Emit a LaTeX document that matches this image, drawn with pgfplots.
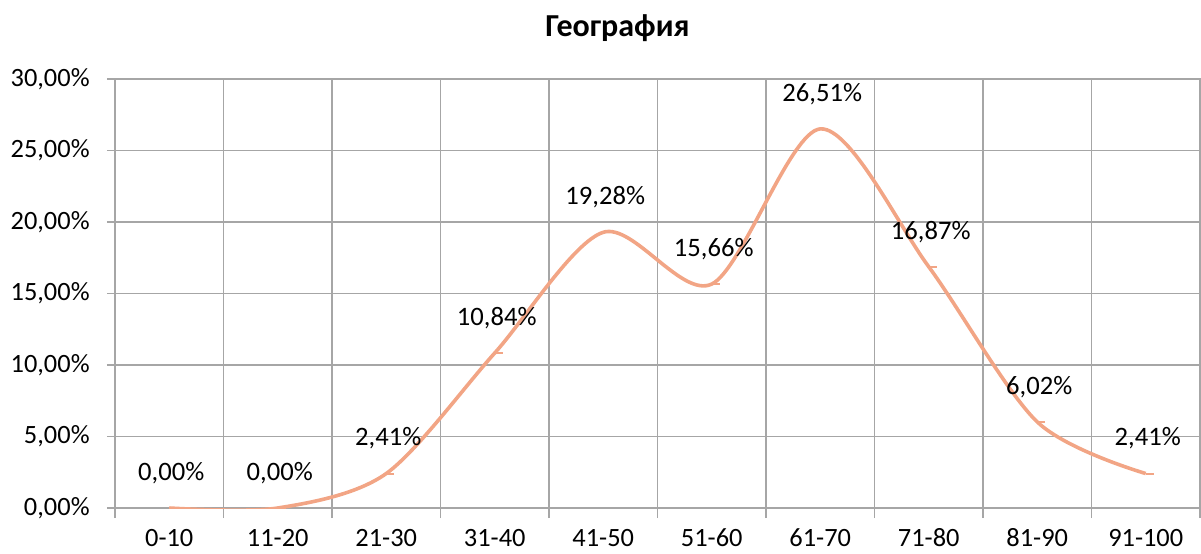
\documentclass[border=0pt]{standalone}
\usepackage{pgfplots}
\pgfplotsset{compat=1.18}
\usepackage{fontspec}
\setmainfont{Carlito}
\definecolor{linec}{HTML}{F2A585}
\definecolor{gridc}{HTML}{A6A6A6}
\begin{document}
\begin{tikzpicture}
\begin{axis}[
  scale only axis,
  width=542.5pt, height=214.5pt,
  xmin=-0.5, xmax=9.5, ymin=0, ymax=30,
  xtick={0,...,9},
  xticklabels={0-10,11-20,21-30,31-40,41-50,51-60,61-70,71-80,81-90,91-100},
  minor xtick={-0.5,0.5,...,9.5},
  major x tick style={draw=none},
  minor x tick style={gridc, line width=0.6pt},
  xminorgrids=true,
  minor tick length=5pt,
  ytick={0,5,...,30},
  ymajorgrids=true,
  y tick style={gridc, line width=0.6pt},
  major tick length=4pt,
  tick align=outside,
  tick pos=left,
  grid style={gridc, line width=0.6pt},
  axis line style={gridc, line width=0.6pt},
  /pgf/number format/assume math mode=true,
  yticklabel={\pgfmathprintnumber[fixed,fixed zerofill,precision=2,use comma]{\tick}\%},
  yticklabel style={anchor=east, inner sep=0pt, xshift=-8.5pt},
  xticklabel style={anchor=center, inner sep=0pt, yshift=-11pt},
  tick label style={font=\fontsize{13.2}{15}\selectfont},
  title={\bfseries География},
  title style={at={(0.5,1)}, anchor=center, xshift=-20pt, yshift=19.5pt, font=\fontsize{16}{19}\selectfont},
  nodes near coords={\pgfmathprintnumber[fixed,fixed zerofill,precision=2,use comma]{\pgfplotspointmeta}\%},
  nodes near coords style={anchor=center, yshift=17.5pt, xshift=-1pt, inner sep=0pt, font=\fontsize{13.3}{15}\selectfont, text=black},
  point meta=y,
]
\addplot[linec, line width=1.8pt, smooth, tension=0.5, mark=-, mark size=2pt, mark options={line width=1pt, xshift=2pt}]
  coordinates {(0,0) (1,0) (2,2.41) (3,10.84) (4,19.28) (5,15.66) (6,26.51) (7,16.87) (8,6.02) (9,2.41)};
\end{axis}
\pgfresetboundingbox
\path (-57.5pt,-22.5pt) rectangle (543pt,254pt);
\end{tikzpicture}
\end{document}
